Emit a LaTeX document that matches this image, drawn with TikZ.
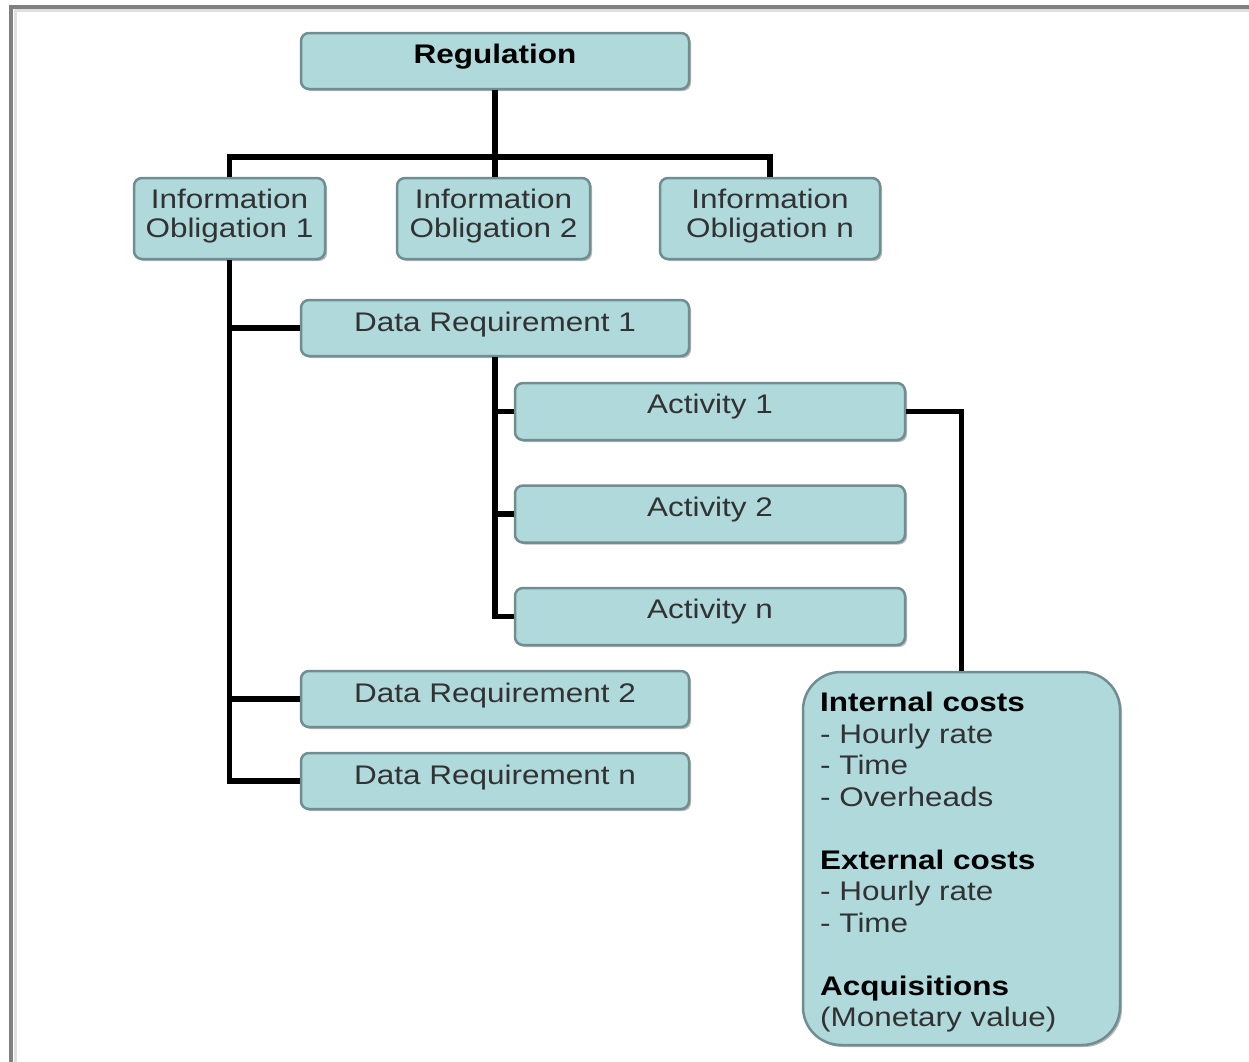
\documentclass[tikz,border=0pt]{standalone}
\usepackage{fontspec}
\setmainfont{Liberation Sans}[FakeStretch=1.17]
\usetikzlibrary{shadows}
\definecolor{boxfill}{RGB}{176,217,220}
\definecolor{boxline}{RGB}{112,142,145}
\definecolor{txtgray}{RGB}{50,50,50}
\definecolor{framegray}{RGB}{128,128,128}
\begin{document}
\begin{tikzpicture}[x=1bp,y=-1bp,
  box/.style={draw=boxline, line width=2.5bp, fill=boxfill, rounded corners=8bp, inner sep=0pt,
    drop shadow={shadow xshift=2bp, shadow yshift=-2bp, fill=black!28, opacity=1}},
  lbl/.style={inner sep=0pt, text=txtgray, font=\fontsize{27}{30}\selectfont, align=center},
  blbl/.style={lbl, text=black, font=\fontsize{27}{30}\selectfont\bfseries},
  conn/.style={line width=5.5bp, black}]
\fill[white] (0,0) rectangle (1249,1062);
\useasboundingbox (0,0) rectangle (1249,1062);
% page frame
\draw[gray!25, line width=3bp] (15,1062) -- (15,10.5) -- (1249,10.5);
\draw[framegray, line width=4bp] (11,1062) -- (11,7) -- (1249,7);

% boxes
\node[box, minimum width=388bp, minimum height=56bp] (reg) at (495,61) {};
\node[box, minimum width=191bp, minimum height=81bp] (io1) at (229.5,218.5) {};
\node[box, minimum width=193bp, minimum height=81bp] (io2) at (493.5,218.5) {};
\node[box, minimum width=220bp, minimum height=81bp] (ion) at (770,218.5) {};
\node[box, minimum width=388bp, minimum height=56bp] (dr1) at (495,328) {};
\node[box, minimum width=388bp, minimum height=56bp] (dr2) at (495,699) {};
\node[box, minimum width=388bp, minimum height=56bp] (drn) at (495,781) {};
\node[box, minimum width=390bp, minimum height=57bp] (a1) at (710,411.5) {};
\node[box, minimum width=390bp, minimum height=57bp] (a2) at (710,514) {};
\node[box, minimum width=390bp, minimum height=57bp] (an) at (710,616.5) {};
\node[box, rounded corners=38bp, minimum width=317bp, minimum height=373bp] (costs) at (961.5,858.5) {};

% connectors
\coordinate (bus) at (0,157);
\draw[conn] (reg.south) -- (reg.south |- io2.north);
\draw[conn] (io1.north) |- (ion.north |- bus) -- (ion.north);
\draw[conn] (io1.south) |- (drn.west);
\draw[conn] (io1.south |- dr1.west) -- (dr1.west);
\draw[conn] (io1.south |- dr2.west) -- (dr2.west);
\draw[conn] (dr1.south) |- (an.west);
\draw[conn] (dr1.south |- a1.west) -- (a1.west);
\draw[conn] (dr1.south |- a2.west) -- (a2.west);
\draw[conn] (a1.east) -| (costs.north);

% texts
\node[blbl, anchor=base] (regt) at ([yshift=-2bp]reg.center) {Regulation};
\node[lbl] (io1t) at ([yshift=2.5bp]io1.center) {Information\\Obligation 1};
\node[lbl] (io2t) at ([yshift=2.5bp]io2.center) {Information\\Obligation 2};
\node[lbl] (iont) at ([yshift=2.5bp]ion.center) {Information\\Obligation n};
\node[lbl, anchor=base] (dr1t) at ([yshift=-3bp]dr1.center) {Data Requirement 1};
\node[lbl, anchor=base] (dr2t) at ([yshift=-3bp]dr2.center) {Data Requirement 2};
\node[lbl, anchor=base] (drnt) at ([yshift=-3bp]drn.center) {Data Requirement n};
\node[lbl, anchor=base] (a1t) at ([yshift=-2bp]a1.center) {Activity 1};
\node[lbl, anchor=base] (a2t) at ([yshift=-2bp]a2.center) {Activity 2};
\node[lbl, anchor=base] (ant) at ([yshift=-2bp]an.center) {Activity n};
\node[lbl, align=left, anchor=north west, font=\fontsize{27}{31.6}\selectfont] (costst) at (820,692)
  {{\color{black}\bfseries Internal costs}\\
   - Hourly rate\\
   - Time\\
   - Overheads\\[31.6bp]
   {\color{black}\bfseries External costs}\\
   - Hourly rate\\
   - Time\\[31.6bp]
   {\color{black}\bfseries Acquisitions}\\
   (Monetary value)};
\end{tikzpicture}
\end{document}
